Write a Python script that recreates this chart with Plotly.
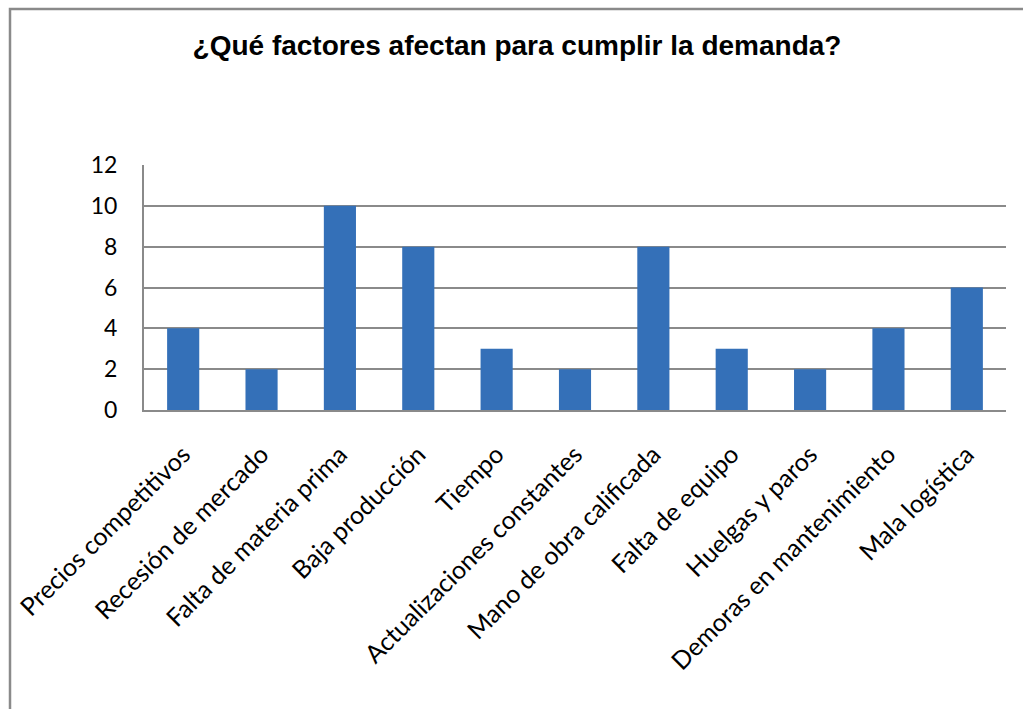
import plotly.graph_objects as go

# Factores y número de respuestas
factores = [
    "Precios competitivos",
    "Recesión de mercado",
    "Falta de materia prima",
    "Baja producción",
    "Tiempo",
    "Actualizaciones constantes",
    "Mano de obra calificada",
    "Falta de equipo",
    "Huelgas y paros",
    "Demoras en mantenimiento",
    "Mala logística",
]
respuestas = [4, 2, 10, 8, 3, 2, 8, 3, 2, 4, 6]
y_ticks = [0, 2, 4, 6, 8, 10, 12]

titulo = "¿Qué factores afectan para cumplir la demanda?"

W, H = 1023, 709
ML, MR, MT, MB = 144, 17, 165, 299
PW, PH = W - ML - MR, H - MT - MB

fig = go.Figure(
    go.Bar(
        x=factores,
        y=respuestas,
        marker=dict(color="#3470b8", line=dict(width=0)),
        hoverinfo="x+y",
    )
)

grid = "#8a8a8a"
fig.update_layout(
    width=W,
    height=H,
    margin=dict(l=ML, r=MR, t=MT, b=MB),
    paper_bgcolor="white",
    plot_bgcolor="white",
    bargap=0.59,
    showlegend=False,
    title=dict(
        text=f"<b>{titulo}</b>",
        font=dict(family="Liberation Sans, Arial", size=28, color="black"),
        x=517 / W,
        xanchor="center",
        xref="container",
        y=1 - 45 / H,
        yanchor="middle",
        yref="container",
    ),
    font=dict(family="Lato", color="black"),
    shapes=[
        # marco exterior del gráfico
        dict(
            type="rect",
            xref="paper",
            yref="paper",
            x0=(10 - ML) / PW,
            x1=(W + 20 - ML) / PW,
            y0=-(H + 20 - MT - PH) / PH,
            y1=(H - MB - 9) / PH,
            line=dict(color=grid, width=2.5),
            layer="below",
        )
    ],
)

fig.update_xaxes(
    tickangle=-45,
    tickfont=dict(family="Lato", size=25, color="black"),
    showline=True,
    linecolor=grid,
    linewidth=2,
    ticks="",
    ticklabelstandoff=18,
    showgrid=False,
)
fig.update_yaxes(
    range=[0, 12],
    tickvals=y_ticks,
    tickfont=dict(family="Lato", size=23, color="black"),
    showline=True,
    linecolor=grid,
    linewidth=2,
    showgrid=True,
    gridcolor=grid,
    gridwidth=2,
    zeroline=False,
    ticks="",
    ticklabelstandoff=20,
)

fig.write_html("out.html")
